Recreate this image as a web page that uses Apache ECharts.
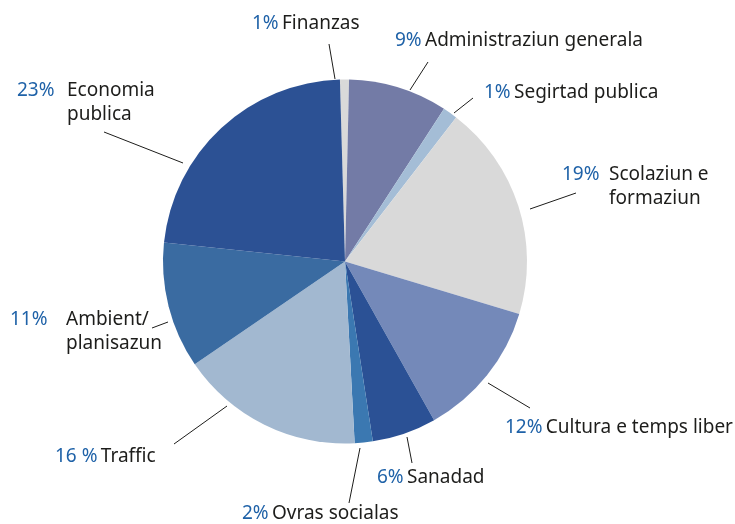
<!DOCTYPE html>
<html lang="rm">
<head>
    <meta charset="UTF-8">
    <title>Expensas</title>
    <style>
        html, body { margin: 0; padding: 0; background: #fff; }
        #main { width: 735px; height: 524px; }
    </style>
</head>
<body>
<div id="main"></div>
<script src="https://cdn.jsdelivr.net/npm/echarts@6/dist/echarts.min.js"></script>
<script>
    // categorias, clockwise from the top
    const names = ['Finanzas', 'Administraziun generala', 'Segirtad publica', 'Scolaziun e\nformaziun',
        'Cultura e temps liber', 'Sanadad', 'Ovras socialas', 'Traffic', 'Ambient/\nplanisazun', 'Economia\npublica'];
    // shares in percent
    const shares = [0.8, 8.8, 1.3, 19.2, 12.2, 5.7, 1.6, 16.3, 11.2, 22.9];
    // the printed percent labels
    const pctLabels = ['1%', '9%', '1%', '19%', '12%', '6%', '2%', '16 %', '11%', '23%'];

    const colors = ['#d9d9d9', '#737ba6', '#a4bdd6', '#d9d9d9', '#7489b9',
        '#2b5195', '#3b78b1', '#a2b8d0', '#3a6ba1', '#2c5194'];

    // label placement: [left x, middle y, line outer point, line inner point]
    const labelPos = [
        [252, 24, [329, 44], [335, 79]],
        [395, 41, [428, 62], [410, 90]],
        [484, 93, [473, 98], [454, 113]],
        [562, 187, [576, 193], [530, 209]],
        [505, 428, [530, 408], [488, 383]],
        [377, 478, [412, 463], [407, 437]],
        [242, 514, [349, 503], [360, 448]],
        [55, 457, [174, 444], [227, 406]],
        [10, 332, [152, 328], [168, 322]],
        [17, 103, [104, 132], [183, 163]]
    ];
    // width of the percent box for two-line labels
    const pctWidth = {3: 47, 8: 56, 9: 50};

    const fontFamily = '"Noto Sans", sans-serif';
    const fs = 19;
    const lh = 24;

    function labelText(i) {
        const lines = names[i].split('\n');
        if (lines.length === 1) {
            return '{p|' + pctLabels[i] + '} {n|' + lines[0] + '}';
        }
        return '{pw' + i + '|' + pctLabels[i] + '}{n|' + lines[0] + '}\n{sw' + i + '|}{n|' + lines[1] + '}';
    }

    const rich = {
        p: {color: '#1f62a8', fontSize: fs, fontFamily: fontFamily, lineHeight: lh},
        n: {color: '#1d1d1b', fontSize: fs, fontFamily: fontFamily, lineHeight: lh}
    };
    Object.keys(pctWidth).forEach(function (k) {
        rich['pw' + k] = {color: '#1f62a8', fontSize: fs, fontFamily: fontFamily, lineHeight: lh, width: pctWidth[k]};
        rich['sw' + k] = {width: pctWidth[k], lineHeight: lh};
    });

    const myChart = echarts.init(document.getElementById('main'));

    const option = {
        animation: false,
        series: [{
            type: 'pie',
            center: [345, 261.5],
            radius: 182,
            startAngle: 91.6,
            clockwise: true,
            avoidLabelOverlap: false,
            silent: true,
            data: names.map(function (n, i) {
                return {name: n, value: shares[i], itemStyle: {color: colors[i]}};
            }),
            label: {
                show: true,
                position: 'outside',
                formatter: function (p) { return labelText(p.dataIndex); },
                rich: rich
            },
            labelLine: {
                show: true,
                lineStyle: {color: '#1d1d1b', width: 1}
            },
            labelLayout: function (params) {
                const lp = labelPos[params.dataIndex];
                return {
                    x: lp[0],
                    y: lp[1],
                    align: 'left',
                    verticalAlign: 'middle',
                    labelLinePoints: [lp[2], lp[3], lp[3]]
                };
            }
        }]
    };
    myChart.setOption(option);
</script>
</body>
</html>
